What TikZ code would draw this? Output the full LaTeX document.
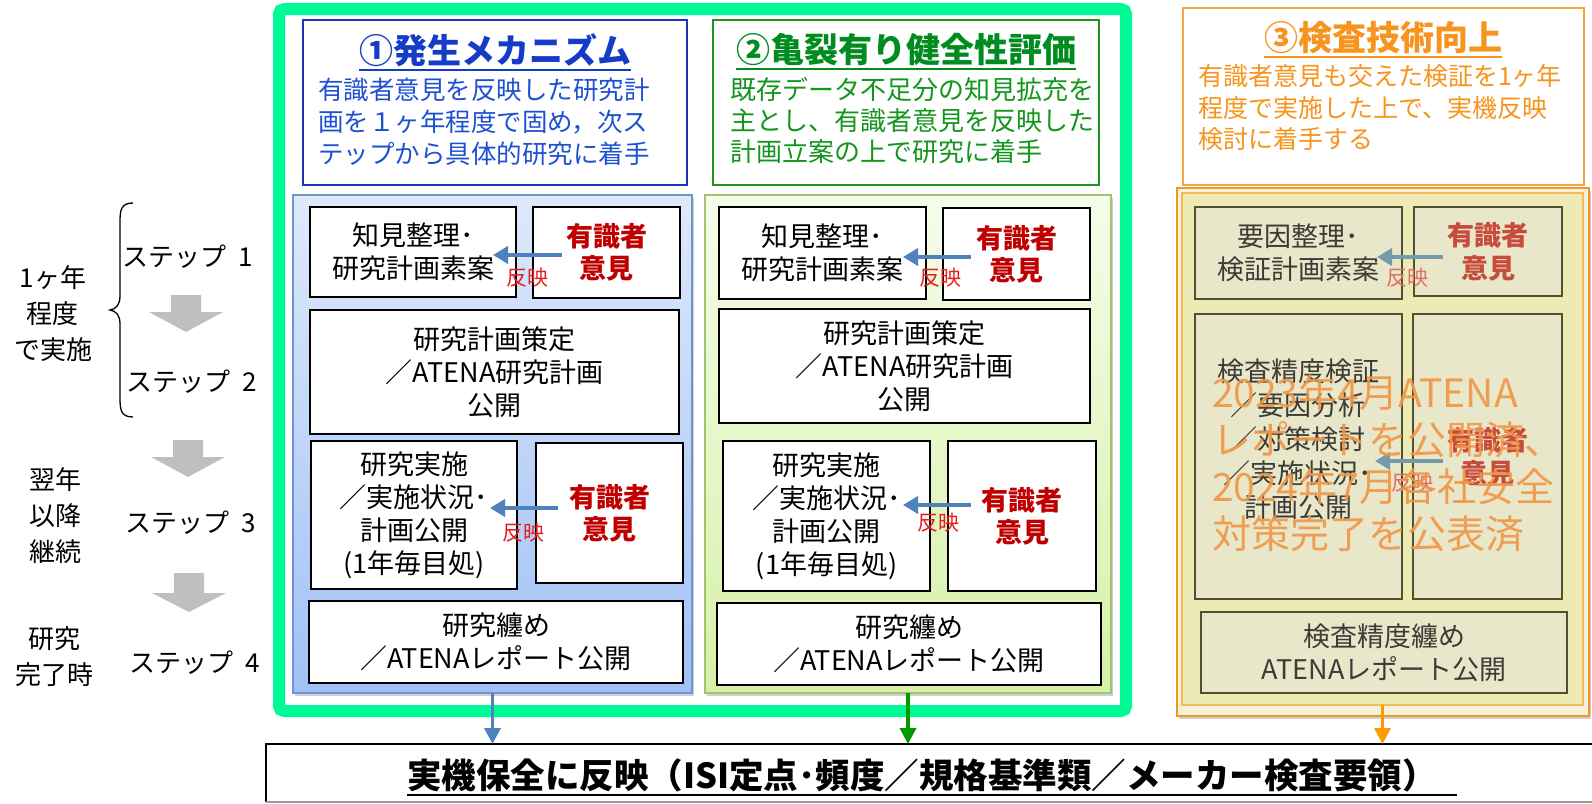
\documentclass[tikz,border=0pt]{standalone}
\usepackage{fontspec}
\setmainfont{Noto Sans CJK JP}
\usetikzlibrary{arrows.meta,shadows}
\newcommand\fs[2]{\fontsize{#1}{#2}\selectfont}
\definecolor{gframe}{RGB}{0,250,150}
\definecolor{c1title}{RGB}{20,60,200}
\definecolor{c1body}{RGB}{30,80,210}
\definecolor{c1line}{RGB}{30,50,190}
\definecolor{c2title}{RGB}{0,140,30}
\definecolor{c2body}{RGB}{20,150,30}
\definecolor{c2line}{RGB}{30,150,30}
\definecolor{c3title}{RGB}{247,148,29}
\definecolor{c3line}{RGB}{245,165,70}
\definecolor{p1top}{RGB}{222,233,251}
\definecolor{p1bot}{RGB}{160,193,246}
\definecolor{p1line}{RGB}{110,150,205}
\definecolor{p2top}{RGB}{246,252,234}
\definecolor{p2bot}{RGB}{214,241,168}
\definecolor{p2line}{RGB}{160,195,110}
\definecolor{p3out}{RGB}{243,241,218}
\definecolor{p3in}{RGB}{238,234,182}
\definecolor{p3line}{RGB}{240,150,40}
\definecolor{p3inline}{RGB}{245,185,90}
\definecolor{c3box}{RGB}{233,231,201}
\definecolor{c3boxline}{RGB}{80,80,50}
\definecolor{c3text}{RGB}{60,60,55}
\definecolor{c3red}{RGB}{200,75,60}
\definecolor{c3arrow}{RGB}{115,155,170}
\definecolor{c3ref}{RGB}{225,110,100}
\definecolor{expred}{RGB}{192,0,0}
\definecolor{refred}{RGB}{230,30,30}
\definecolor{barrow}{RGB}{79,129,189}
\definecolor{garrow}{RGB}{0,153,0}
\definecolor{oarrow}{RGB}{255,153,0}
\definecolor{stampc}{RGB}{240,150,70}
\definecolor{grayarr}{RGB}{191,191,191}
\tikzset{
  every node/.style={inner sep=0pt, outer sep=0pt},
  wbox/.style={draw=black, fill=white, line width=1.4pt, align=center, font=\fs{27}{33}},
  ybox/.style={draw=c3boxline, fill=c3box, line width=1.4pt, align=center, font=\fs{27}{33}, text=c3text},
  expert/.style={text=expred, font=\bfseries\fs{27}{32}},
  c3expert/.style={text=c3red, font=\bfseries\fs{27}{33}},
  reflabel/.style={text=refred, font=\fs{21}{21}},
  c3reflabel/.style={text=c3ref, font=\fs{21}{21}},
  refarrow/.style={draw=barrow, line width=4.5pt, -{Triangle[width=17pt,length=15pt]}},
  c3refarrow/.style={draw=c3arrow, line width=4.5pt, -{Triangle[width=17pt,length=15pt]}},
  hdr/.style={fill=white, line width=2pt},
  title/.style={font=\bfseries\fs{34}{34}},
  body/.style={anchor=west, align=left},
  steplabel/.style={font=\fs{26}{26}},
  phase/.style={align=center, font=\fs{26}{36}},
  outarrow/.style={line width=3.5pt, -{Triangle[width=16pt,length=16pt]}},
  pshadow/.style={drop shadow={shadow xshift=2pt, shadow yshift=-3pt, opacity=0.3, fill=black!60}},
}
% #1 options, #2 name, #3 x1, #4 y1, #5 x2, #6 y2, #7 text
\newcommand\rbox[7][]{\node[#1, minimum width={#5-#3}, minimum height={#6-#4}] (#2) at ({(#3+#5)/2},{(#4+#6)/2}) {#7};}
\newcommand\grayarrow[4]{\fill[grayarr] (#1-15,#2) -- (#1+15,#2) -- (#1+15,#3) -- (#1+37,#3) -- (#1,#4) -- (#1-37,#3) -- (#1-15,#3) -- cycle;}
\begin{document}
\begin{tikzpicture}[x=1pt,y=-1pt]
\useasboundingbox (0,0) rectangle (1592,803);
\fill[white] (0,0) rectangle (1592,803);

% ---------- left side ----------
\node[phase] (ph1) at (53,314) {1ヶ年\\程度\\で実施};
\node[phase] (ph2) at (55,516) {翌年\\以降\\継続};
\node[phase] (ph3) at (55,657) {研究\\完了時};
\node[steplabel] (s1) at (188,257) {ステップ\ \ 1};
\node[steplabel] (s2) at (192,382) {ステップ\ \ 2};
\node[steplabel] (s3) at (191,523) {ステップ\ \ 3};
\node[steplabel] (s4) at (195,663) {ステップ\ \ 4};
\grayarrow{186}{295}{312}{332}
\grayarrow{188}{440}{457}{477}
\grayarrow{189}{573}{593}{612}
\draw[line width=1.3pt] (133,203) .. controls (121,203) and (120,210) .. (120,222) -- (120,296) .. controls (120,305) and (116,309) .. (110,310) .. controls (116,311) and (120,315) .. (120,324) -- (120,398) .. controls (120,410) and (121,417) .. (133,417);

% ---------- green frame ----------
\rbox[draw=gframe, line width=12pt, rounded corners=5pt]{gf}{279}{9}{1126}{711}{}

% ---------- headers ----------
\rbox[hdr, draw=c1line]{h1}{303}{20}{687}{185}{}
\node[title, text=c1title] (t1) at (495,50) {①発生メカニズム};
\draw[c1title, line width=2pt] ([yshift=-3pt]t1.south west) -- ([yshift=-3pt]t1.south east);
\node[body, text=c1body, font=\fs{25.5}{32}] (d1) at (318,122) {有識者意見を反映した研究計\\画を１ヶ年程度で固め，次ス\\テップから具体的研究に着手};

\rbox[hdr, draw=c2line]{h2}{713}{20}{1099}{185}{}
\node[title, text=c2title] (t2) at (906,50) {②亀裂有り健全性評価};
\draw[c2title, line width=2pt] ([yshift=-3pt]t2.south west) -- ([yshift=-3pt]t2.south east);
\node[body, text=c2body, font=\fs{26}{31}] (d2) at (730,121) {既存データ不足分の知見拡充を\\主とし、有識者意見を反映した\\計画立案の上で研究に着手};

\rbox[hdr, draw=c3line]{h3}{1183}{8}{1584}{185}{}
\node[title, text=c3title] (t3) at (1383,38) {③検査技術向上};
\draw[c3title, line width=2pt] ([yshift=-3pt]t3.south west) -- ([yshift=-3pt]t3.south east);
\node[body, text=c3title, font=\fs{25}{31.5}] (d3) at (1198,108) {有識者意見も交えた検証を1ヶ年\\程度で実施した上で、実機反映\\検討に着手する};

% ---------- column 1 ----------
\rbox[pshadow, draw=p1line, line width=1.5pt, top color=p1top, bottom color=p1bot]{p1}{293}{195}{692}{693}{}
\rbox[wbox]{k1}{310}{207}{516}{297}{知見整理･\\研究計画素案}
\rbox[wbox, expert]{e1}{533}{207}{680}{298}{有識者\\意見}
\rbox[wbox]{r1}{310}{310}{679}{434}{研究計画策定\\／ATENA研究計画\\公開}
\rbox[wbox]{i1}{311}{441}{517}{589}{研究実施\\／実施状況･\\計画公開\\(1年毎目処)}
\rbox[wbox, expert]{f1}{536}{443}{683}{583}{有識者\\意見}
\rbox[wbox]{m1}{309}{601}{683}{683}{研究纏め\\／ATENAレポート公開}
\coordinate (a1s) at (562,255); \coordinate (a1e) at (493,255);
\draw[refarrow] (a1s) -- (a1e);
\node[reflabel] (rl1) at (527,278) {反映};
\coordinate (a2s) at (558,508); \coordinate (a2e) at (490,508);
\draw[refarrow] (a2s) -- (a2e);
\node[reflabel] (rl2) at (523,533) {反映};

% ---------- column 2 ----------
\rbox[pshadow, draw=p2line, line width=1.5pt, top color=p2top, bottom color=p2bot]{p2}{705}{195}{1111}{693}{}
\rbox[wbox]{k2}{719}{207}{926}{299}{知見整理･\\研究計画素案}
\rbox[wbox, expert]{e2}{943}{208}{1090}{300}{有識者\\意見}
\rbox[wbox]{r2}{719}{309}{1090}{423}{研究計画策定\\／ATENA研究計画\\公開}
\rbox[wbox]{i2}{723}{441}{930}{591}{研究実施\\／実施状況･\\計画公開\\(1年毎目処)}
\rbox[wbox, expert]{f2}{948}{441}{1096}{591}{有識者\\意見}
\rbox[wbox]{m2}{717}{603}{1101}{685}{研究纏め\\／ATENAレポート公開}
\coordinate (b1s) at (971,257); \coordinate (b1e) at (903,257);
\draw[refarrow] (b1s) -- (b1e);
\node[reflabel] (rl3) at (940,278) {反映};
\coordinate (b2s) at (971,505); \coordinate (b2e) at (903,505);
\draw[refarrow] (b2s) -- (b2e);
\node[reflabel] (rl4) at (938,523) {反映};

% ---------- column 3 ----------
\rbox[pshadow, draw=p3line, line width=2pt, fill=p3out]{p3o}{1177}{188}{1589}{716}{}
\rbox[draw=p3inline, line width=1.5pt, fill=p3in]{p3}{1182}{193}{1583}{705}{}
\rbox[ybox]{k3}{1195}{207}{1402}{299}{要因整理･\\検証計画素案}
\rbox[ybox, c3expert]{e3}{1414}{207}{1562}{296}{有識者\\意見}
\rbox[ybox]{i3}{1195}{314}{1402}{599}{}
\node[align=center, text=c3text, font=\fs{27}{34}] (i3t) at (1298,439.5) {検査精度検証\\／要因分析\\／対策検討\\／実施状況･\\計画公開};
\rbox[ybox, c3expert]{f3}{1413}{314}{1562}{599}{有識者\\意見}
\rbox[ybox]{m3}{1201}{612}{1567}{693}{検査精度纏め\\ATENAレポート公開}
\coordinate (c1s) at (1443,257); \coordinate (c1e) at (1377,257);
\draw[c3refarrow] (c1s) -- (c1e);
\node[c3reflabel] (rl5) at (1407,278) {反映};
\coordinate (c2s) at (1443,461); \coordinate (c2e) at (1375,461);
\draw[c3refarrow] (c2s) -- (c2e);
\node[c3reflabel] (rl6) at (1412,483) {反映};
\node[anchor=west, align=left, text=stampc, opacity=0.9, font=\fs{39}{47}] (stamp) at (1212,463) {2023年4月ATENA\\レポートを公開済、\\2024年7月各社安全\\対策完了を公表済};

% ---------- bottom ----------
\rbox[]{bot}{266}{744}{1610}{802}{}
\draw[line width=1.8pt] (bot.south west) |- (bot.north east);
\draw[black!40, line width=1.5pt] (bot.south west) -- (bot.south east);
\node[font=\bfseries\fs{34.5}{34.5}] (bt) at (922,775) {実機保全に反映（ISI定点･頻度／規格基準類／メーカー検査要領）};
\draw[line width=2pt] ([yshift=-3pt]bt.south west) -- ([yshift=-3pt,xshift=20pt]bt.south east);

\draw[outarrow, barrow] (p1.south) -- (p1.south |- bot.north);
\draw[outarrow, garrow] (p2.south) -- (p2.south |- bot.north);
\draw[outarrow, oarrow] (p3.south) -- (p3.south |- bot.north);
\end{tikzpicture}
\end{document}
